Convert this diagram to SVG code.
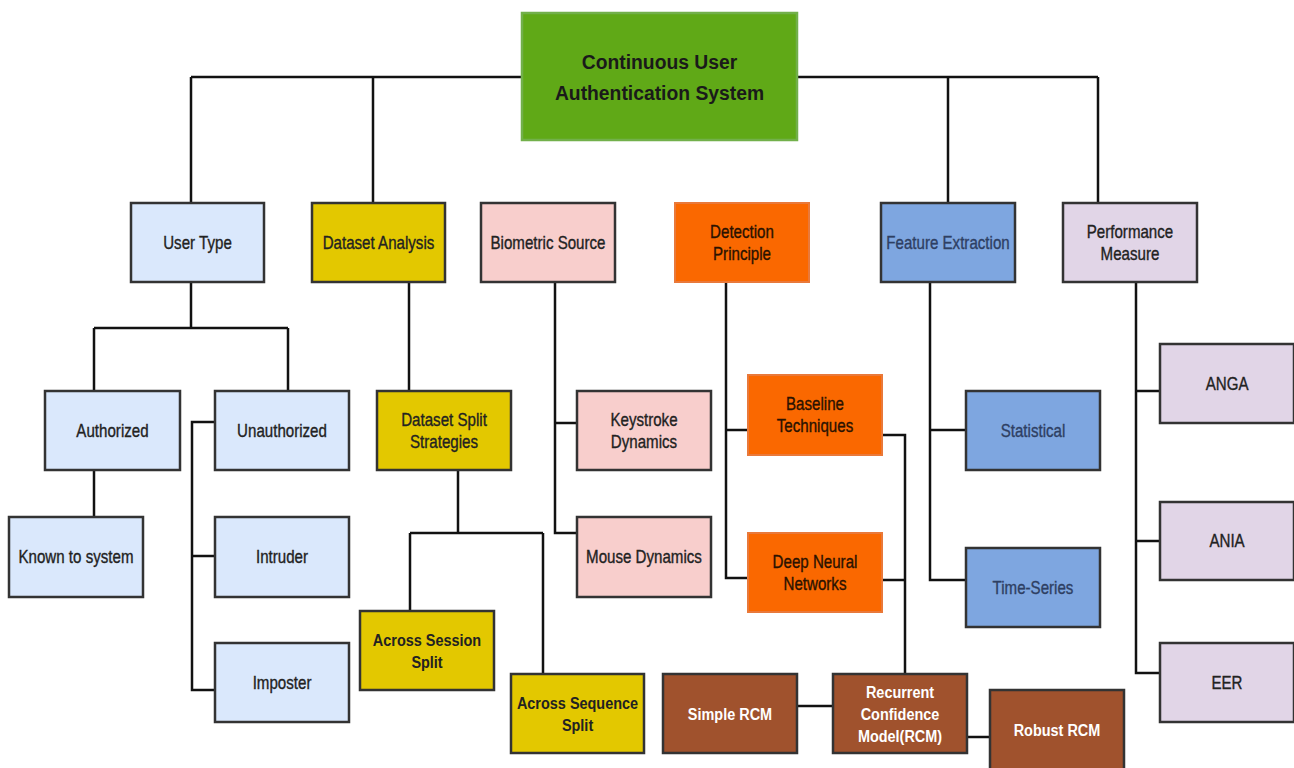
<svg xmlns="http://www.w3.org/2000/svg" width="1294" height="768" viewBox="0 0 1294 768">
  <style>
    text { font-family: "Liberation Sans", Arial, sans-serif; font-size: 18px; fill: #222; stroke: #222; stroke-width: 0.35; text-anchor: middle; dominant-baseline: central; transform-box: fill-box; transform-origin: center; transform: scaleX(0.84); }
    .box { stroke: #333; stroke-width: 2.5; }
    .blue { fill: #dae8fc; }
    .yellow { fill: #e3c800; }
    .pink { fill: #f8cecc; }
    .orange { fill: #fa6800; stroke: #e9793a; stroke-width: 2; }
    .steel { fill: #7ea6e0; }
    .lilac { fill: #e1d5e7; }
    .brown { fill: #a0522d; }
    .root { fill: #60a917; stroke: #72b04a; stroke-width: 2.5; }
    .title { font-size: 21px; font-weight: bold; fill: #1a1a1a; stroke: none; transform: scaleX(0.92); }
    .wt { fill: #fff; stroke: none; font-weight: bold; font-size: 17px; transform: scaleX(0.85); }
    .bold { font-weight: bold; stroke: none; font-size: 17px; transform: scaleX(0.85); }
    .bt { fill: #2e3f63; stroke: #2e3f63; }
    .ot { fill: #2a1200; stroke: #2a1200; }
    #connectors path { fill: none; stroke: #111; stroke-width: 2.5; }
  </style>

  <g id="connectors">
    <!-- root bus -->
    <path d="M191 77 H1098 M191 77 V203 M373 77 V203 M948 77 V203 M1098 77 V203"/>
    <!-- user type -->
    <path d="M191 282 V328 M94 328 H288 M94 328 V391 M288 328 V391"/>
    <path d="M94 470 V517"/>
    <path d="M215 422 H192 V690 H215 M192 556 H215"/>
    <!-- dataset analysis -->
    <path d="M409 282 V391"/>
    <path d="M458 470 V533 M410 533 H543 M410 533 V611 M543 533 V674"/>
    <!-- biometric source -->
    <path d="M555 282 V533 H577 M555 423 H577"/>
    <!-- detection principle -->
    <path d="M726 282 V578 H748 M726 430 H748"/>
    <path d="M882 435 H905 V674 M882 580 H905"/>
    <path d="M797 706 H833 M967 737 H990"/>
    <!-- feature extraction -->
    <path d="M930 282 V580 H966 M930 430 H966"/>
    <!-- performance measure -->
    <path d="M1136 282 V673 H1160 M1136 391 H1160 M1136 541 H1160"/>
  </g>

  <g id="root">
    <rect class="root" x="522" y="13" width="275" height="127"/>
    <text class="title" x="659.5" y="62">Continuous User</text>
    <text class="title" x="659.5" y="93">Authentication System</text>
  </g>

  <g id="user-type"><rect class="box blue" x="131" y="203" width="133" height="79"/><text x="197.5" y="243">User Type</text></g>
  <g id="dataset-analysis"><rect class="box yellow" x="312" y="203" width="133" height="79"/><text x="378.5" y="243">Dataset Analysis</text></g>
  <g id="biometric-source"><rect class="box pink" x="481" y="203" width="134" height="79"/><text x="548" y="243">Biometric Source</text></g>
  <g id="detection-principle"><rect class="orange" x="675" y="203" width="134" height="79"/><text class="ot" x="742" y="232">Detection</text><text class="ot" x="742" y="254">Principle</text></g>
  <g id="feature-extraction"><rect class="box steel" x="881" y="203" width="134" height="79"/><text class="bt" x="948" y="243">Feature Extraction</text></g>
  <g id="performance-measure"><rect class="box lilac" x="1063" y="203" width="134" height="79"/><text x="1130" y="232">Performance</text><text x="1130" y="254">Measure</text></g>

  <g id="authorized"><rect class="box blue" x="45" y="391" width="135" height="79"/><text x="112.5" y="431">Authorized</text></g>
  <g id="unauthorized"><rect class="box blue" x="215" y="391" width="134" height="79"/><text x="282" y="431">Unauthorized</text></g>
  <g id="known-to-system"><rect class="box blue" x="9" y="517" width="134" height="80"/><text x="76" y="557">Known to system</text></g>
  <g id="intruder"><rect class="box blue" x="215" y="517" width="134" height="80"/><text x="282" y="557">Intruder</text></g>
  <g id="imposter"><rect class="box blue" x="215" y="643" width="134" height="79"/><text x="282" y="683">Imposter</text></g>

  <g id="dataset-split"><rect class="box yellow" x="377" y="391" width="134" height="79"/><text x="444" y="420">Dataset Split</text><text x="444" y="442">Strategies</text></g>
  <g id="across-session"><rect class="box yellow" x="360" y="611" width="134" height="79"/><text class="bold" x="427" y="640">Across Session</text><text class="bold" x="427" y="662">Split</text></g>
  <g id="across-sequence"><rect class="box yellow" x="511" y="674" width="133" height="79"/><text class="bold" x="577.5" y="703">Across Sequence</text><text class="bold" x="577.5" y="725">Split</text></g>

  <g id="keystroke"><rect class="box pink" x="577" y="391" width="134" height="79"/><text x="644" y="420">Keystroke</text><text x="644" y="442">Dynamics</text></g>
  <g id="mouse"><rect class="box pink" x="577" y="517" width="134" height="80"/><text x="644" y="557">Mouse Dynamics</text></g>

  <g id="baseline"><rect class="orange" x="748" y="375" width="134" height="80"/><text class="ot" x="815" y="404">Baseline</text><text class="ot" x="815" y="426">Techniques</text></g>
  <g id="dnn"><rect class="orange" x="748" y="533" width="134" height="79"/><text class="ot" x="815" y="562">Deep Neural</text><text class="ot" x="815" y="584">Networks</text></g>

  <g id="simple-rcm"><rect class="box brown" x="663" y="674" width="134" height="79"/><text class="wt" x="730" y="714">Simple RCM</text></g>
  <g id="rcm"><rect class="box brown" x="833" y="674" width="134" height="79"/><text class="wt" x="900" y="692">Recurrent</text><text class="wt" x="900" y="714">Confidence</text><text class="wt" x="900" y="736">Model(RCM)</text></g>
  <g id="robust-rcm"><rect class="box brown" x="990" y="690" width="134" height="80"/><text class="wt" x="1057" y="730">Robust RCM</text></g>

  <g id="statistical"><rect class="box steel" x="966" y="391" width="134" height="79"/><text class="bt" x="1033" y="431">Statistical</text></g>
  <g id="time-series"><rect class="box steel" x="966" y="548" width="134" height="79"/><text class="bt" x="1033" y="588">Time-Series</text></g>

  <g id="anga"><rect class="box lilac" x="1160" y="344" width="134" height="79"/><text x="1227" y="384">ANGA</text></g>
  <g id="ania"><rect class="box lilac" x="1160" y="502" width="134" height="78"/><text x="1227" y="541">ANIA</text></g>
  <g id="eer"><rect class="box lilac" x="1160" y="643" width="134" height="79"/><text x="1227" y="683">EER</text></g>
</svg>
